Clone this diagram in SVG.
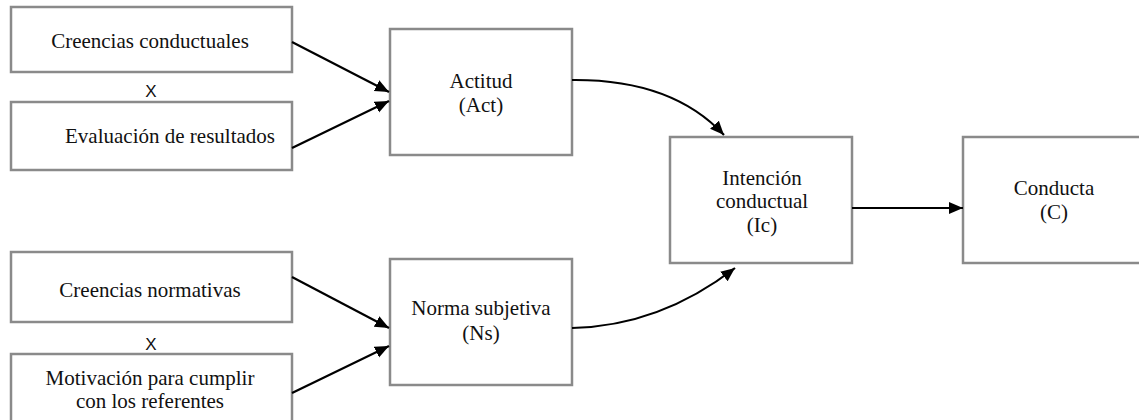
<svg xmlns="http://www.w3.org/2000/svg" width="1139" height="420" viewBox="0 0 1139 420">
<style>
.box{fill:#fff;stroke:#8a8a8a;stroke-width:2.5}
.c{fill:none;stroke:#000;stroke-width:2.2}
</style>
<defs>
<marker id="ah" markerUnits="userSpaceOnUse" markerWidth="16" markerHeight="14" refX="14" refY="7" orient="auto">
<path d="M0,1 L14,7 L0,13 Z" fill="#000"/>
</marker>
</defs>
<rect width="1139" height="420" fill="#fff"/>
<g font-family="'Liberation Serif', 'DejaVu Serif', serif" font-size="21" fill="#111" text-anchor="middle">
<g id="n1"><rect class="box" x="11" y="7" width="281" height="65"/><text x="150" y="48">Creencias conductuales</text></g>
<g id="n2"><rect class="box" x="11" y="102" width="281" height="68"/><text x="170" y="143">Evaluación de resultados</text></g>
<g id="n3"><rect class="box" x="11" y="252" width="281" height="70"/><text x="150" y="297">Creencias normativas</text></g>
<g id="n4"><rect class="box" x="11" y="354" width="281" height="80"/><text x="150" y="385">Motivación para cumplir</text><text x="150" y="408">con los referentes</text></g>
<g id="n5"><rect class="box" x="390" y="29" width="182" height="126"/><text x="481" y="88">Actitud</text><text x="481" y="112">(Act)</text></g>
<g id="n6"><rect class="box" x="390" y="259" width="182" height="126"/><text x="481" y="315">Norma subjetiva</text><text x="481" y="340">(Ns)</text></g>
<g id="n7"><rect class="box" x="670" y="137" width="182" height="126"/><text x="762" y="185">Intención</text><text x="762" y="208">conductual</text><text x="762" y="232">(Ic)</text></g>
<g id="n8"><rect class="box" x="963" y="137" width="182" height="126"/><text x="1054" y="195">Conducta</text><text x="1054" y="219">(C)</text></g>
</g>
<g font-family="'Liberation Sans', Arial, sans-serif" font-size="17" fill="#111" text-anchor="middle">
<g id="x1"><text x="151" y="97">X</text></g>
<g id="x2"><text x="151" y="350">X</text></g>
</g>
<g id="connectors">
<line class="c" x1="292" y1="42" x2="389" y2="92" marker-end="url(#ah)"/>
<line class="c" x1="292" y1="148" x2="389" y2="101" marker-end="url(#ah)"/>
<line class="c" x1="292" y1="277" x2="389" y2="328" marker-end="url(#ah)"/>
<line class="c" x1="292" y1="393" x2="389" y2="346" marker-end="url(#ah)"/>
<path class="c" d="M572,80 Q672,79 724,135" marker-end="url(#ah)"/>
<path class="c" d="M572,328 Q660,326 735,268" marker-end="url(#ah)"/>
<line class="c" x1="852" y1="208" x2="963" y2="208" marker-end="url(#ah)"/>
</g>
</svg>
